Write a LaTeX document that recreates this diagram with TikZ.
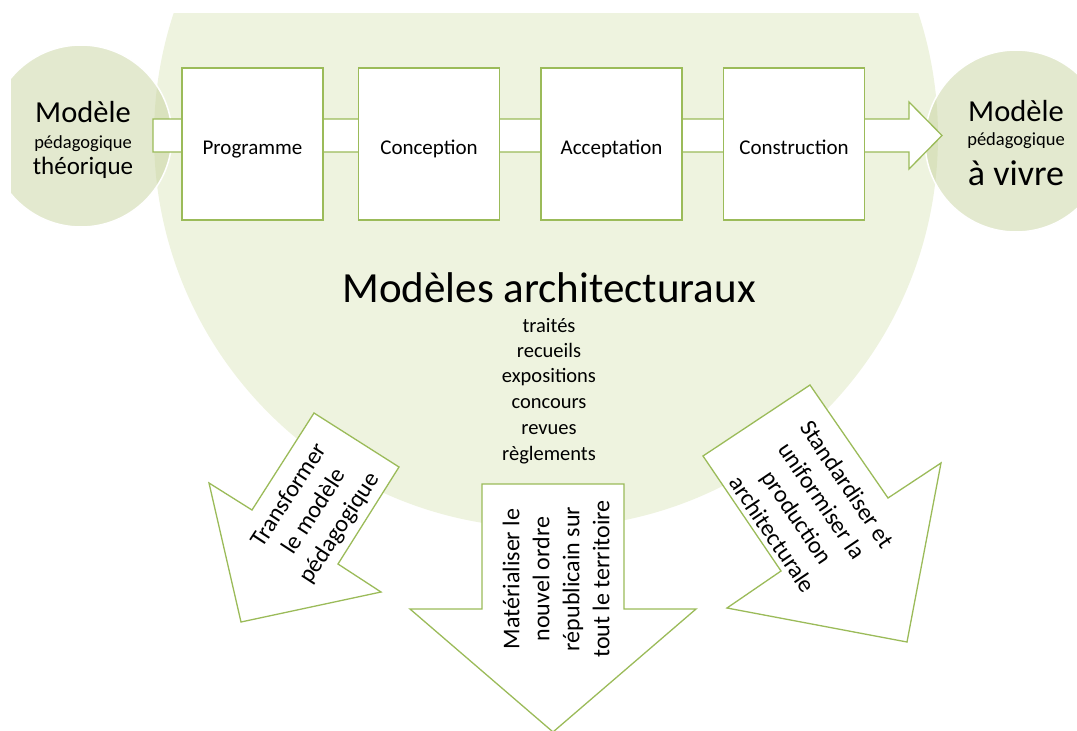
\documentclass[tikz,border=0pt]{standalone}
\usepackage{fontspec}
\setmainfont{Carlito}
\definecolor{bigfill}{RGB}{238,243,223}
\definecolor{smallfill}{RGB}{199,211,159}
\definecolor{lineg}{RGB}{155,187,89}
\tikzset{
  procbox/.style={draw=lineg, line width=1.3pt, fill=white, minimum width=141pt, minimum height=152pt, inner sep=0pt},
  sidecircle/.style={circle, fill=smallfill, fill opacity=0.5, draw=white, line width=1.5pt, minimum size=182pt, inner sep=0pt},
  shapeline/.style={draw=lineg, line width=1.3pt, fill=white, line join=miter},
  boxtext/.style={font=\fontsize{21}{25}\selectfont, anchor=base},
  listtext/.style={font=\fontsize{20.5}{25}\selectfont, anchor=base},
  arrowtext/.style={font=\fontsize{24}{30}\selectfont, align=center, inner sep=0pt}
}
\begin{document}
\begin{tikzpicture}[x=1pt,y=-1pt]
\useasboundingbox (0,0) rectangle (1077,731);
\clip (11,13) rectangle (1077,731);
% big circle
\node[circle, fill=bigfill, minimum size=784pt, inner sep=0pt] (big) at (546,136) {};
% side circles
\node[sidecircle] (left) at (81,136) {};
\node[sidecircle] (right) at (1016,141) {};
% main flow arrow
\path[shapeline] (153,119) -- (909,119) -- (909,102) -- (942,135.5) -- (909,169) -- (909,152) -- (153,152) -- cycle;
% process boxes
\node[procbox] (prog) at (252.5,144) {};
\node[procbox] (conc) at (429,144) {};
\node[procbox] (acc) at (611.5,144) {};
\node[procbox] (cons) at (794,144) {};
\node[boxtext] (progt) at (252.5,154) {Programme};
\node[boxtext] (conct) at (429,154) {Conception};
\node[boxtext] (acct) at (611.5,154) {Acceptation};
\node[boxtext] (const) at (794,154) {Construction};
% side circle texts
\node[anchor=base, font=\fontsize{30.5}{30}\selectfont] (l1) at (83,122) {Modèle};
\node[anchor=base, font=\fontsize{18.5}{20}\selectfont] (l2) at (83,148) {pédagogique};
\node[anchor=base, font=\fontsize{25}{25}\selectfont] (l3) at (83,174) {théorique};
\node[anchor=base, font=\fontsize{30.5}{30}\selectfont] (r1) at (1016,121) {Modèle};
\node[anchor=base, font=\fontsize{18.5}{20}\selectfont] (r2) at (1016,145) {pédagogique};
\node[anchor=base, font=\fontsize{36}{36}\selectfont] (r3) at (1016,185) {à vivre};
% title and list
\node[anchor=base, font=\fontsize{43}{43}\selectfont] (title) at (549,302) {Modèles architecturaux};
\node[listtext] (i1) at (549,332) {traités};
\node[listtext] (i2) at (549,357) {recueils};
\node[listtext] (i3) at (549,382) {expositions};
\node[listtext] (i4) at (549,408) {concours};
\node[listtext] (i5) at (549,434) {revues};
\node[listtext] (i6) at (549,460) {règlements};
% down arrows
\path[shapeline] (314,413) -- (399,467) -- (338,564) -- (381,592) -- (241,622) -- (209,483) -- (252,510) -- cycle;
\path[shapeline] (482,484) -- (624,484) -- (624,609) -- (696,609) -- (553,732) -- (410,609) -- (482,609) -- cycle;
\path[shapeline] (703,456) -- (810,385) -- (888,498) -- (941,463) -- (907,642) -- (727,608) -- (781,571) -- cycle;
\node[arrowtext, rotate=57] (at1) at (315,512) {Transformer\\le modèle\\pédagogique};
\node[arrowtext, rotate=90] (at2) at (556,579) {Matérialiser le\\nouvel ordre\\républicain sur\\tout le territoire};
\node[arrowtext, rotate=-56] (at3) at (810,509) {Standardiser et\\uniformiser la\\production\\architecturale};
\end{tikzpicture}
\end{document}
